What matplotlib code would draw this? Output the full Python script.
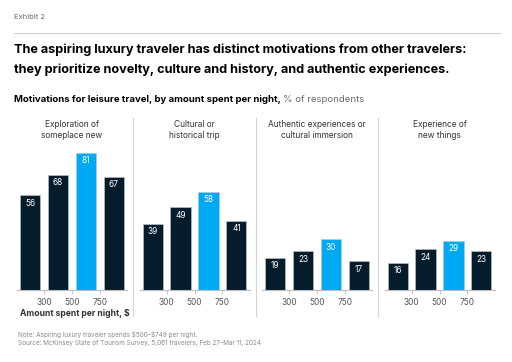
import matplotlib
matplotlib.use("Agg")
import matplotlib.pyplot as plt
from matplotlib.lines import Line2D

plt.rcParams['font.family'] = ['Inter', 'DejaVu Sans']

# ---- data ----
categories = ["Exploration of\nsomeplace new", "Cultural or\nhistorical trip",
              "Authentic experiences or\ncultural immersion", "Experience of\nnew things"]
spend_bins = ["<300", "300-499", "500-749", "750+"]
values = [
    [56, 68, 81, 67],
    [39, 49, 58, 41],
    [19, 23, 30, 17],
    [16, 24, 29, 23],
]
highlight_index = 2
tick_labels = ["300", "500", "750"]

W, H = 512, 362
fig = plt.figure(figsize=(W / 100, H / 100), dpi=100)
fig.patch.set_facecolor("white")

def fx(x):
    return x / W

def fy(y):
    return 1 - y / H

DARK = "#051C2C"
CYAN = "#00A9F4"
GRAY = "#6b6b6b"

# header
fig.text(fx(14), fy(17), "Exhibit 2", fontsize=5.5, color=GRAY, va="center", ha="left")
fig.add_artist(Line2D([fx(14), fx(500)], [fy(33), fy(33)], color="#d0d0d0", lw=0.8))
fig.text(fx(14), fy(50), "The aspiring luxury traveler has distinct motivations from other travelers:",
         fontsize=9.15, fontweight="bold", color="black", va="center", ha="left")
fig.text(fx(14), fy(70), "they prioritize novelty, culture and history, and authentic experiences.",
         fontsize=9.15, fontweight="bold", color="black", va="center", ha="left")

sub1 = fig.text(fx(14), fy(100), "Motivations for leisure travel, by amount spent per night, ",
                fontsize=6.9, fontweight="bold", color="black", va="center", ha="left")
fig.canvas.draw()
bb = sub1.get_window_extent()
fig.text(bb.x1 / W, fy(100), "% of respondents", fontsize=6.9, color=GRAY, va="center", ha="left")

# panels
baseline = 290
px_per_unit = 1.69
ymax = 85
ax_h = ymax * px_per_unit
lefts = [17, 139.5, 262, 384.5]
ax_w = 110
xlim = (-0.47, 3.47)

for i, (cat, vals) in enumerate(zip(categories, values)):
    ax = fig.add_axes([fx(lefts[i]), fy(baseline), ax_w / W, ax_h / H])
    x = list(range(len(vals)))
    colors = [CYAN if j == highlight_index else DARK for j in x]
    ax.bar(x, vals, width=0.72, color=colors, edgecolor="#c8c8c8", linewidth=0.4)
    for j, v in enumerate(vals):
        ax.text(j, v - 2.0, f"{v}", ha="center", va="top", fontsize=6, color="white")
    ax.set_xlim(*xlim)
    ax.set_ylim(0, ymax)
    for s in ["top", "right", "left"]:
        ax.spines[s].set_visible(False)
    ax.spines["bottom"].set_color("#bdbdbd")
    ax.spines["bottom"].set_linewidth(0.8)
    ax.set_yticks([])
    ax.set_xticks([0.5, 1.5, 2.5])
    ax.set_xticklabels(tick_labels)
    ax.tick_params(axis="x", length=3, width=0.6, color="#bdbdbd", labelsize=6,
                   labelcolor="#555555", pad=2.5)
    ax.set_facecolor("none")
    cx = lefts[i] + ax_w / 2
    fig.text(fx(cx), fy(130), cat, fontsize=6, color="#333333", ha="center", va="center",
             linespacing=1.25)

# separators
for sx in [133, 255.5, 378]:
    fig.add_artist(Line2D([fx(sx), fx(sx)], [fy(118), fy(316)], color="#d5d5d5", lw=0.8))

fig.text(fx(20), fy(313), "Amount spent per night, \\$", fontsize=6.2, fontweight="bold",
         color="#333333", ha="left", va="center")

fig.text(fx(18), fy(335), "Note: Aspiring luxury traveler spends \\$500\u2013\\$749 per night.",
         fontsize=4.6, color="#8a8a8a", ha="left", va="center")
fig.text(fx(18), fy(343), "Source: McKinsey State of Tourism Survey, 5,061 travelers, Feb 27\u2013Mar 11, 2024",
         fontsize=4.6, color="#8a8a8a", ha="left", va="center")

fig.savefig("out.png", dpi=100, facecolor="white")
